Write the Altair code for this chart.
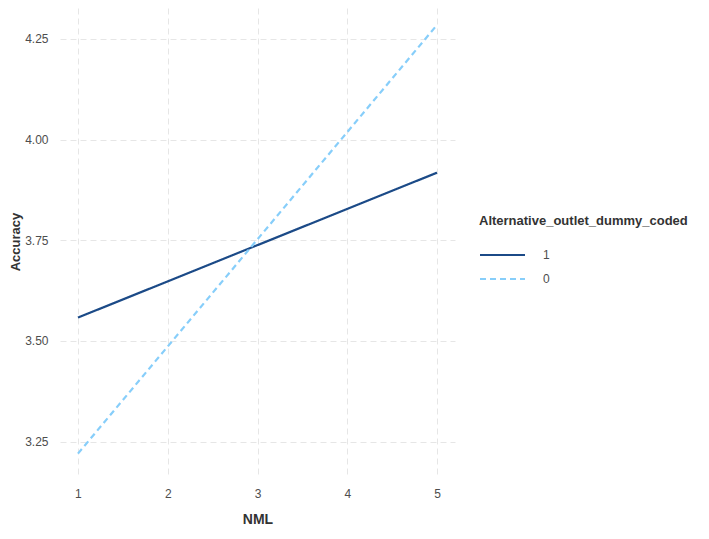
import altair as alt
import pandas as pd

nml = [1, 5]
acc_1 = [3.558, 3.918]
acc_0 = [3.220, 4.285]
groups = ["1", "0"]
colors = ["#1B4A87", "#87CEFA"]

rows = []
for x, y in zip(nml, acc_1):
    rows.append({"NML": x, "Accuracy": y, "Alternative_outlet_dummy_coded": "1"})
for x, y in zip(nml, acc_0):
    rows.append({"NML": x, "Accuracy": y, "Alternative_outlet_dummy_coded": "0"})
df = pd.DataFrame(rows)

grid_dash = [6, 4]
leg = dict(orient="none", legendX=419, legendY=207)

chart = alt.Chart(df).mark_line(strokeWidth=2.2).encode(
    x=alt.X("NML:Q", scale=alt.Scale(domain=[0.8, 5.2], nice=False, zero=False),
            axis=alt.Axis(values=[1, 2, 3, 4, 5], format="d", title="NML",
                          domain=False, ticks=False, labelPadding=13, titlePadding=13,
                          grid=True, gridDash=grid_dash, gridColor="#e6e6e6")),
    y=alt.Y("Accuracy:Q", scale=alt.Scale(domain=[3.167, 4.327], nice=False, zero=False),
            axis=alt.Axis(values=[3.25, 3.5, 3.75, 4.0, 4.25], format=".2f", title="Accuracy",
                          domain=False, ticks=False, labelPadding=12, titlePadding=2,
                          titleFontSize=13,
                          grid=True, gridDash=grid_dash, gridColor="#e6e6e6")),
    color=alt.Color("Alternative_outlet_dummy_coded:N",
                    scale=alt.Scale(domain=groups, range=colors),
                    legend=alt.Legend(symbolType="stroke", symbolSize=2025,
                                      symbolStrokeWidth=2, rowPadding=8, clipHeight=16,
                                      labelOffset=17, **leg)),
    strokeDash=alt.StrokeDash("Alternative_outlet_dummy_coded:N",
                              scale=alt.Scale(domain=groups, range=[[1, 0], [6, 4]]),
                              legend=alt.Legend(**leg)),
).properties(
    width=395, height=467,
    autosize=alt.AutoSizeParams(type="none"),
    padding={"left": 52, "top": 0, "right": 246, "bottom": 56},
).configure_view(
    strokeWidth=0
).configure_axis(
    labelFont="Liberation Sans", labelFontSize=12, labelColor="#4d4d4d",
    titleFont="Liberation Sans", titleFontSize=14, titleFontWeight="bold", titleColor="#333333",
).configure_legend(
    titleFont="Liberation Sans", titleFontSize=13, titleFontWeight="bold", titleColor="#333333",
    labelFont="Liberation Sans", labelFontSize=12, labelColor="#4d4d4d", titlePadding=19,
    titleLimit=400,
)

chart.save("out.html", embed_options={"renderer": "svg", "actions": False})
